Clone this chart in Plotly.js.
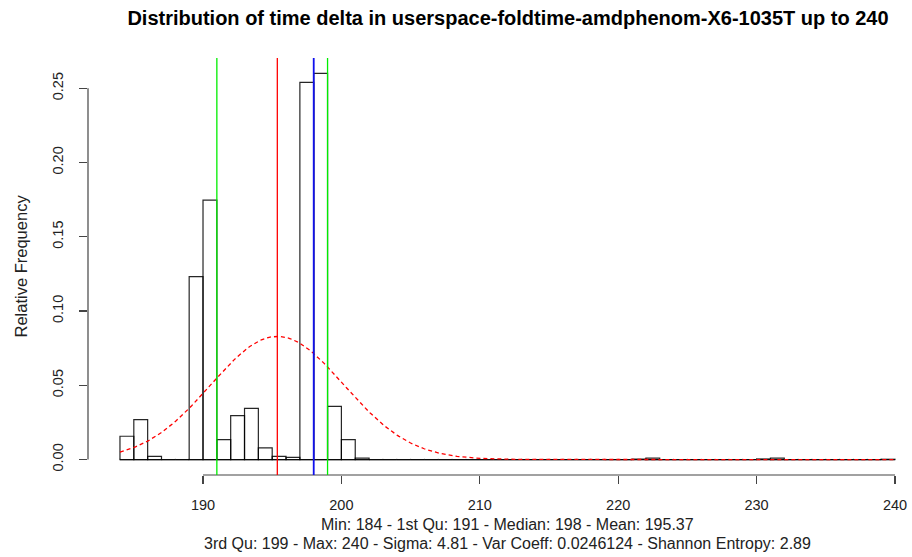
<!DOCTYPE html>
<html>
<head>
<meta charset="utf-8">
<script src="https://cdn.plot.ly/plotly-3.0.1.min.js"></script>
<style>
html,body{margin:0;padding:0;background:#fff;}
#chart{width:912px;height:557px;}
</style>
</head>
<body>
<div id="chart"></div>
<script>
// Histogram bins (left edges, width 1) and relative frequencies
var binStarts = [184,185,186,187,188,189,190,191,192,193,194,195,196,197,198,199,200,201,202,203,
                 204,205,206,207,208,209,210,211,212,213,214,215,216,217,218,219,220,221,222,223,
                 224,225,226,227,228,229,230,231,232,233,234,235,236,237,238,239];
var relFreq = [0.0157,0.0269,0.0022,0,0,0.1232,0.1747,0.0134,0.0296,0.0345,0.0078,0.0022,0.0015,0.254,0.260,0.0358,0.0134,0.0010,0,0,
               0,0,0,0,0,0,0,0,0,0,0,0,0,0,0,0,0,0.0003,0.0010,0,
               0,0,0,0,0,0,0.0004,0.0010,0,0,0,0,0,0,0,0.0002];
var binWidth = 1;

// Summary statistics
var statMin = 184, statQ1 = 191, statMedian = 198, statMean = 195.37;
var statQ3 = 199, statMax = 240, statSigma = 4.81;
var statLine1 = "Min: 184 - 1st Qu: 191 - Median: 198 - Mean: 195.37";
var statLine2 = "3rd Qu: 199 - Max: 240 - Sigma: 4.81 - Var Coeff: 0.0246124 - Shannon Entropy: 2.89";

var xTicks = [190,200,210,220,230,240];
var yTicks = [0,0.05,0.10,0.15,0.20,0.25];
var yTickText = ["0.00","0.05","0.10","0.15","0.20","0.25"];
var chartTitle = "Distribution of time delta in userspace-foldtime-amdphenom-X6-1035T up to 240";
var yLabel = "Relative Frequency";

// normal density from mean and sigma
var curveX = [], curveY = [];
var nSteps = 400;
for (var i = 0; i <= nSteps; i++) {
  var xv = statMin + (statMax - statMin) * i / nSteps;
  curveX.push(xv);
  curveY.push(Math.exp(-0.5 * Math.pow((xv - statMean) / statSigma, 2)) / (statSigma * Math.sqrt(2 * Math.PI)));
}

var barCenters = binStarts.map(function(b){ return b + binWidth / 2; });
// zero-height bins: R still draws their outline as small separators on the baseline
var sepX = [], sepY = [];
binStarts.forEach(function(b){ sepX.push(b, b, null); sepY.push(0, 0.0006, null); });

var traces = [
  {
    type: 'bar',
    x: barCenters,
    y: relFreq,
    width: binWidth,
    marker: {color: 'rgba(255,255,255,0)', line: {color: 'rgba(0,0,0,0.85)', width: 1.2}},
    hoverinfo: 'x+y'
  },
  {
    type: 'scatter', mode: 'lines',
    x: sepX, y: sepY,
    line: {color: 'rgba(0,0,0,0.35)', width: 1},
    hoverinfo: 'skip'
  },
  {
    type: 'scatter', mode: 'lines',
    x: curveX, y: curveY,
    line: {color: '#ff0000', width: 1.3, dash: '4px,3px'},
    hoverinfo: 'skip'
  }
];

var firstEdge = binStarts[0];
var lastEdge = binStarts[binStarts.length - 1] + binWidth;

var shapes = [
  {type: 'line', xref: 'x', yref: 'y', x0: firstEdge, x1: lastEdge, y0: 0, y1: 0,
   line: {color: 'rgba(0,0,0,0.7)', width: 1.2}, layer: 'below'},
  {type: 'line', xref: 'x', yref: 'paper', x0: xTicks[0], x1: xTicks[xTicks.length-1], y0: 0, y1: 0,
   line: {color: '#444', width: 1.2}},
  {type: 'line', xref: 'paper', yref: 'y', x0: 0, x1: 0, y0: yTicks[0], y1: yTicks[yTicks.length-1],
   line: {color: '#444', width: 1.2}},
  {type: 'line', xref: 'x', yref: 'paper', x0: statQ1, x1: statQ1, y0: 0, y1: 1, line: {color: '#00ee00', width: 1.3}},
  {type: 'line', xref: 'x', yref: 'paper', x0: statQ3, x1: statQ3, y0: 0, y1: 1, line: {color: '#00ee00', width: 1.3}},
  {type: 'line', xref: 'x', yref: 'paper', x0: statMean, x1: statMean, y0: 0, y1: 1, line: {color: '#ff0000', width: 1.3}},
  {type: 'line', xref: 'x', yref: 'paper', x0: statMedian, x1: statMedian, y0: 0, y1: 1, line: {color: '#1010ee', width: 1.8}}
];

var fontFam = '"Liberation Sans", Arial, Helvetica, sans-serif';

var layout = {
  width: 912, height: 557,
  paper_bgcolor: '#ffffff', plot_bgcolor: '#ffffff',
  showlegend: false,
  bargap: 0,
  margin: {l: 88, r: 0, t: 57.6, b: 81.5, pad: 0},
  font: {family: fontFam, color: '#000', size: 14},
  title: {
    text: '<b>' + chartTitle + '</b>',
    font: {family: fontFam, size: 20, color: '#000'},
    xref: 'container', x: 508 / 912, xanchor: 'center',
    yref: 'container', y: 1 - 18 / 557, yanchor: 'middle'
  },
  xaxis: {
    range: [181.69, 241.23],
    showgrid: false, zeroline: false, showline: false,
    tickmode: 'array', tickvals: xTicks, ticktext: xTicks.map(String),
    ticks: 'outside', ticklen: 8, tickwidth: 1.2, tickcolor: '#444',
    ticklabelstandoff: 9,
    tickfont: {family: fontFam, size: 14.5, color: '#222'}
  },
  yaxis: {
    range: [-0.0104, 0.2704],
    showgrid: false, zeroline: false, showline: false,
    tickmode: 'array', tickvals: yTicks, ticktext: yTickText,
    ticks: 'outside', ticklen: 8, tickwidth: 1.2, tickcolor: '#444',
    tickangle: -90,
    ticklabelstandoff: 10,
    tickfont: {family: fontFam, size: 14.5, color: '#222'}
  },
  shapes: shapes,
  annotations: [
    {text: yLabel, xref: 'paper', yref: 'paper', x: (20 - 88) / 824, y: 0.5,
     xanchor: 'center', yanchor: 'middle', textangle: -90, showarrow: false,
     font: {family: fontFam, size: 16.5, color: '#222'}},
    {text: statLine1, xref: 'paper', yref: 'paper', x: (507 - 88) / 824, y: (475.5 - 525) / 417.9,
     xanchor: 'center', yanchor: 'middle', showarrow: false,
     font: {family: fontFam, size: 16, color: '#222'}},
    {text: statLine2, xref: 'paper', yref: 'paper', x: (507 - 88) / 824, y: (475.5 - 544) / 417.9,
     xanchor: 'center', yanchor: 'middle', showarrow: false,
     font: {family: fontFam, size: 16, color: '#222'}}
  ]
};

Plotly.newPlot('chart', traces, layout, {displayModeBar: false, staticPlot: true});
</script>
</body>
</html>
